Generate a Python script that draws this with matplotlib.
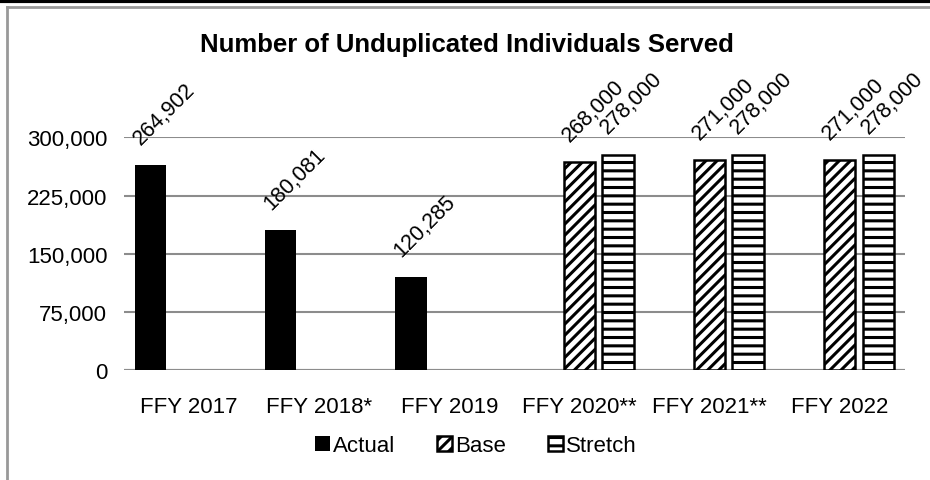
import numpy as np
import matplotlib.pyplot as plt
from matplotlib.lines import Line2D

plt.rcParams['font.family'] = ['Liberation Sans', 'DejaVu Sans']
plt.rcParams['hatch.linewidth'] = 2.2

# Data
categories = ['FFY 2017', 'FFY 2018*', 'FFY 2019', 'FFY 2020**', 'FFY 2021**', 'FFY 2022']
actual = [264902, 180081, 120285, None, None, None]
base = [None, None, None, 268000, 271000, 271000]
stretch = [None, None, None, 278000, 278000, 278000]
yticks = [0, 75000, 150000, 225000, 300000]

fig = plt.figure(figsize=(9.3, 4.81), dpi=100)
ax = fig.add_axes([0.1333, 0.2293, 0.8397, 0.4828])

x = np.arange(len(categories))
width = 0.24
step = 0.295

series = [
    ('Actual', actual, -step, dict(color='black')),
    ('Base', base, 0, dict(facecolor='white', edgecolor='black', hatch='///', linewidth=1.8)),
    ('Stretch', stretch, step, dict(facecolor='white', edgecolor='black', hatch='--', linewidth=1.8)),
]

for name, vals, off, style in series:
    xs = [xi + off for xi, v in zip(x, vals) if v is not None]
    vs = [v for v in vals if v is not None]
    ax.bar(xs, vs, width=width, label=name, zorder=3, **style)
    for xi, v in zip(xs, vs):
        ax.annotate(f'{v:,}', (xi, v), xytext=(10, 12), textcoords='offset points',
                    ha='center', va='bottom', rotation=45, fontsize=15.5,
                    annotation_clip=False)

ax.set_xlim(-0.5, len(categories) - 0.5)
ax.set_ylim(0, 300000)
ax.set_yticks(yticks)
ax.set_yticklabels([f'{t:,}' for t in yticks])
ax.set_xticks(x)
ax.set_xticklabels(categories)
ax.tick_params(axis='both', length=0, labelsize=16)
ax.tick_params(axis='x', pad=19)
ax.tick_params(axis='y', pad=12)
ax.grid(axis='y', color='#8c8c8c', linewidth=1.5, zorder=0)
for s in ax.spines.values():
    s.set_visible(False)
ax.axhline(0, color='#8c8c8c', linewidth=1.5, zorder=2)

fig.text(0.502, 0.906, 'Number of Unduplicated Individuals Served',
         ha='center', va='center', fontsize=18.5, fontweight='bold')

handles, labels = ax.get_legend_handles_labels()
fig.legend(handles, labels, loc='center', bbox_to_anchor=(476 / 930, 1 - 447 / 481),
           ncol=3, frameon=False, fontsize=16, handlelength=0.65, handleheight=0.65,
           handletextpad=0.15, columnspacing=1.9)

# outer frame
fig.add_artist(Line2D([0, 1], [1 - 1.5 / 481] * 2, color='black', linewidth=3,
                      transform=fig.transFigure))
fig.add_artist(Line2D([7 / 930, 1], [1 - 8 / 481] * 2, color='#999999', linewidth=2,
                      transform=fig.transFigure))
fig.add_artist(Line2D([7 / 930] * 2, [0, 1 - 8 / 481], color='#999999', linewidth=2,
                      transform=fig.transFigure))

fig.savefig('out.png', dpi=100)
